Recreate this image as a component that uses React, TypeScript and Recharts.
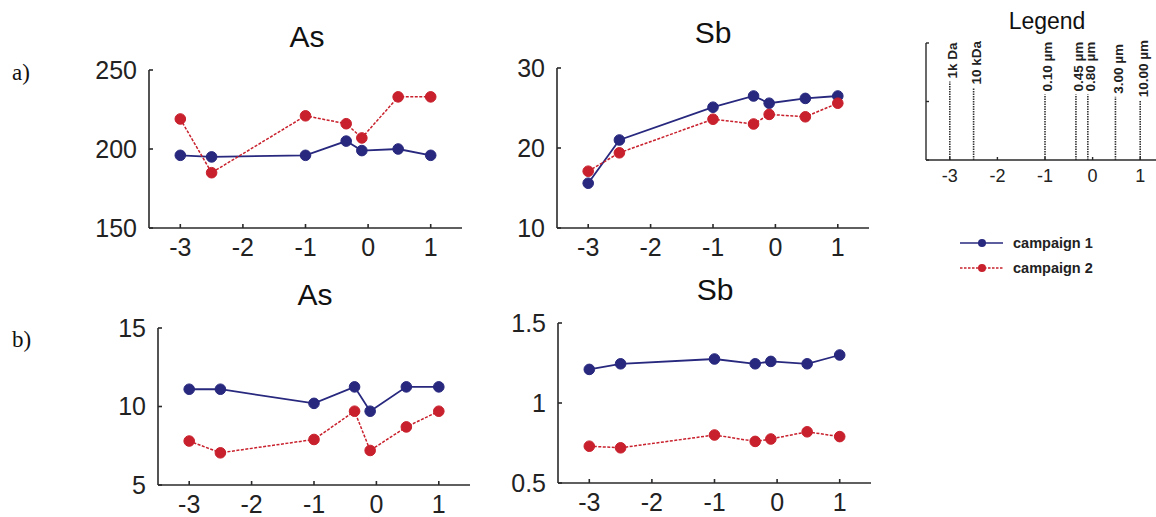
import { FC } from "react";
import { LineChart, Line, XAxis, YAxis } from "recharts";

// log10 of cut-off size (kDa / µm) used as x position
const sizes = [-3, -2.5, -1, -0.35, -0.1, 0.48, 1];
const sizeLabels = ["1k Da", "10 kDa", "0.10 µm", "0.45 µm", "0.80 µm", "3.00 µm", "10.00 µm"];
const markerHeights = [0.67, 0.62, 0.56, 0.56, 0.56, 0.54, 0.51];
const xTicks = [-3, -2, -1, 0, 1];

const asA1 = [196, 195, 196, 205, 199, 200, 196];
const asA2 = [219, 185, 221, 216, 207, 233, 233];
const sbA1 = [15.6, 21, 25.1, 26.5, 25.6, 26.2, 26.5];
const sbA2 = [17.1, 19.4, 23.6, 23, 24.2, 23.9, 25.6];
const asB1 = [11.1, 11.1, 10.2, 11.25, 9.7, 11.25, 11.25];
const asB2 = [7.8, 7.05, 7.9, 9.7, 7.2, 8.7, 9.7];
const sbB1 = [1.21, 1.245, 1.275, 1.245, 1.26, 1.245, 1.3];
const sbB2 = [0.73, 0.72, 0.8, 0.76, 0.775, 0.82, 0.79];

const BLUE = "#27287e";
const RED = "#c8202c";
const AXIS = "#2a2a2a";
const FONT = "'Liberation Sans', Arial, sans-serif";

type PanelProps = {
  x0: number;
  x1: number;
  yTop: number;
  yBottom: number;
  yDomain: [number, number];
  yTicks: number[];
  c1: number[];
  c2: number[];
};

const tickStyle = { fontSize: 25, fill: "#222", fontFamily: FONT };

const Panel: FC<PanelProps> = ({ x0, x1, yTop, yBottom, yDomain, yTicks, c1, c2 }) => {
  const data = sizes.map((x, i) => ({ x, c1: c1[i], c2: c2[i] }));
  const left = x0 - 100;
  const top = yTop - 20;
  return (
    <div style={{ position: "absolute", left, top }}>
      <LineChart
        width={x1 - x0 + 120}
        height={yBottom - yTop + 60}
        data={data}
        margin={{ top: 20, right: 20, left: 40, bottom: 10 }}
      >
        <XAxis
          dataKey="x"
          type="number"
          domain={[-3.5, 1.5]}
          ticks={xTicks}
          height={30}
          stroke={AXIS}
          strokeWidth={1.6}
          tickSize={-4}
          tickMargin={14}
          tick={tickStyle}
          allowDataOverflow
        />
        <YAxis
          type="number"
          domain={yDomain}
          ticks={yTicks}
          width={60}
          stroke={AXIS}
          strokeWidth={1.6}
          tickSize={-4}
          tickMargin={16}
          tick={tickStyle}
          allowDataOverflow
        />
        <Line
          dataKey="c1"
          stroke={BLUE}
          strokeWidth={1.8}
          dot={{ r: 5.3, fill: BLUE, stroke: BLUE, strokeWidth: 1 }}
          isAnimationActive={false}
        />
        <Line
          dataKey="c2"
          stroke={RED}
          strokeWidth={1.5}
          strokeDasharray="3 1.5"
          dot={{ r: 5.3, fill: RED, stroke: RED, strokeWidth: 1, strokeDasharray: "" }}
          isAnimationActive={false}
        />
      </LineChart>
    </div>
  );
};

const markerLabel = (text: string) => (props: any) => {
  if (props.index !== 1) return null;
  const x = (props.x ?? 0) + 3;
  const y = (props.y ?? 0) - 3;
  return (
    <text
      x={x}
      y={y}
      transform={`rotate(-90 ${x} ${y})`}
      fontSize={13.5}
      fontWeight={600}
      fontFamily={FONT}
      fill="#222"
      dominantBaseline="central"
    >
      {text}
    </text>
  );
};

const SizeLegend: FC = () => {
  return (
    <div style={{ position: "absolute", left: 926 - 60, top: 43 - 20 }}>
      <LineChart
        width={1164 - 926 + 60 + 10}
        height={160 - 43 + 20 + 40}
        margin={{ top: 20, right: 10, left: 0, bottom: 10 }}
      >
        <XAxis
          dataKey="x"
          type="number"
          domain={[-3.5, 1.5]}
          ticks={xTicks}
          height={30}
          stroke={AXIS}
          strokeWidth={1.4}
          tickSize={-3}
          tickMargin={12}
          tick={{ fontSize: 18, fill: "#222", fontFamily: FONT }}
          allowDataOverflow
        />
        <YAxis
          type="number"
          domain={[0, 1]}
          ticks={[0, 0.5, 1]}
          width={60}
          stroke={AXIS}
          strokeWidth={1.4}
          tickSize={-3}
          tickFormatter={() => ""}
          allowDataOverflow
        />
        {sizes.map((s, i) => (
          <Line
            key={sizeLabels[i]}
            data={[
              { x: s, y: 0 },
              { x: s, y: markerHeights[i] },
            ]}
            dataKey="y"
            stroke="#333"
            strokeWidth={1.6}
            strokeDasharray="1.5 1"
            dot={false}
            label={markerLabel(sizeLabels[i])}
            isAnimationActive={false}
          />
        ))}
      </LineChart>
    </div>
  );
};

const App: FC = () => {
  return (
    <div
      style={{
        position: "fixed",
        left: 0,
        top: 0,
        width: 1156,
        height: 517,
        overflow: "hidden",
        background: "#fff",
      }}
    >
      <Panel x0={149} x1={462} yTop={70} yBottom={228} yDomain={[150, 250]} yTicks={[150, 200, 250]} c1={asA1} c2={asA2} />
      <Panel x0={557} x1={869} yTop={68} yBottom={228} yDomain={[10, 30]} yTicks={[10, 20, 30]} c1={sbA1} c2={sbA2} />
      <Panel x0={158} x1={470} yTop={328} yBottom={485} yDomain={[5, 15]} yTicks={[5, 10, 15]} c1={asB1} c2={asB2} />
      <Panel x0={558} x1={871} yTop={323} yBottom={483} yDomain={[0.5, 1.5]} yTicks={[0.5, 1, 1.5]} c1={sbB1} c2={sbB2} />
      <SizeLegend />
      <svg width={1156} height={517} style={{ position: "absolute", left: 0, top: 0, pointerEvents: "none" }}>
        <g fontFamily={FONT} fill="#111" textAnchor="middle">
          <text x={307} y={47} fontSize={30}>As</text>
          <text x={713} y={43} fontSize={30}>Sb</text>
          <text x={315} y={305} fontSize={30}>As</text>
          <text x={715} y={300} fontSize={30}>Sb</text>
          <text x={1047} y={29} fontSize={23}>Legend</text>
        </g>
        <g fontFamily="'Liberation Serif', 'Times New Roman', serif" fill="#111" fontSize={23}>
          <text x={12} y={80}>a)</text>
          <text x={12} y={347}>b)</text>
        </g>
        <g>
          <line x1={960} x2={1003} y1={243} y2={243} stroke={BLUE} strokeWidth={1.5} />
          <circle cx={982} cy={243} r={4} fill={BLUE} />
          <line x1={960} x2={1003} y1={268} y2={268} stroke={RED} strokeWidth={1.3} strokeDasharray="2.5 1.5" />
          <circle cx={982} cy={268} r={4} fill={RED} />
          <text x={1013} y={248} fontSize={14.5} fontWeight={700} fontFamily={FONT} fill="#222">campaign 1</text>
          <text x={1013} y={273} fontSize={14.5} fontWeight={700} fontFamily={FONT} fill="#222">campaign 2</text>
        </g>
      </svg>
    </div>
  );
};

export default App;
